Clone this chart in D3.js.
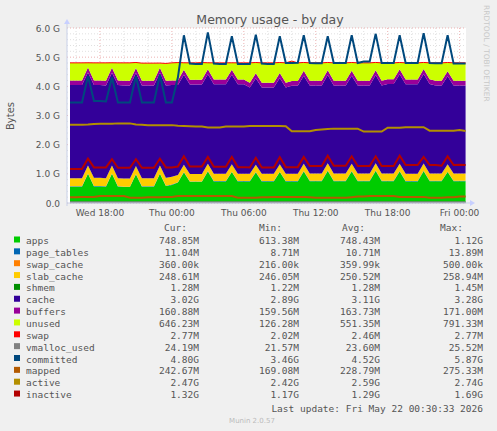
<!DOCTYPE html>
<html><head><meta charset="utf-8">
<script src="https://cdn.jsdelivr.net/npm/d3@7"></script>
<style>body{margin:0;background:#f0f0f0;}svg{display:block;}</style>
</head><body><svg id="c" width="497" height="431"></svg>
<script>
// samples every 30 min from Wed 15:30 to Fri 00:30 (67 points), values in GB
const startTime = new Date(2026,4,20,15,30);
const apps = [.56,.56,.56,1.00,.57,.57,.56,1.00,.56,.55,.55,.98,.56,.56,.56,1.00,.58,.62,
 .70,1.05,.73,.73,.73,1.08,.74,.74,.74,1.06,.74,.74,.74,1.05,.74,.74,.74,1.06,.74,.74,.74,1.08,.75,.75,.75,1.10,.75,.75,.75,1.08,.75,.75,.75,1.10,.75,.75,.75,1.08,.74,.74,.74,1.09,.75,.75,.75,1.06,.75,.75,.75];
const page_tables = [.011,.011,.011,.013,.011,.011,.011,.013,.011,.011,.011,.013,.011,.011,.011,.013,.011,.011,
 .011,.014,.011,.011,.011,.014,.011,.011,.011,.013,.011,.011,.011,.013,.011,.011,.011,.013,.011,.011,.011,.014,.011,.011,.011,.014,.011,.011,.011,.013,.011,.011,.011,.014,.011,.011,.011,.013,.011,.011,.011,.014,.011,.011,.011,.013,.011,.011,.011];
const swap_cache = [.0004,.0004,.0004,.0004,.0004,.0004,.0004,.0004,.0004,.0004,.0004,.0004,.0004,.0004,.0004,.0004,.0004,.0004,
 .0004,.0004,.0004,.0004,.0004,.0004,.0004,.0004,.0004,.0004,.0004,.0004,.0004,.0004,.0004,.0004,.0004,.0004,.0004,.0004,.0004,.0004,.0004,.0004,.0004,.0004,.0004,.0004,.0004,.0004,.0004,.0004,.0004,.0004,.0004,.0004,.0004,.0004,.0004,.0004,.0004,.0004,.0004,.0004,.0004,.0004,.0004,.0004,.0004];
const slab_cache = [.28,.28,.28,.27,.28,.28,.28,.27,.28,.28,.28,.27,.28,.28,.28,.27,.27,.27,
 .25,.25,.25,.25,.25,.25,.25,.25,.25,.25,.25,.25,.25,.25,.25,.25,.25,.25,.25,.25,.25,.25,.25,.25,.25,.25,.25,.25,.25,.25,.25,.25,.25,.25,.25,.25,.25,.25,.25,.25,.25,.25,.25,.25,.25,.25,.25,.25,.25];
const shmem = [.0013,.0013,.0013,.0013,.0013,.0013,.0013,.0013,.0013,.0013,.0013,.0013,.0013,.0013,.0013,.0013,.0013,.0013,
 .0013,.0013,.0013,.0013,.0013,.0013,.0013,.0013,.0013,.0013,.0013,.0013,.0013,.0013,.0013,.0013,.0013,.0013,.0013,.0013,.0013,.0013,.0013,.0013,.0013,.0013,.0013,.0013,.0013,.0013,.0013,.0013,.0013,.0013,.0013,.0013,.0013,.0013,.0013,.0013,.0013,.0013,.0013,.0013,.0013,.0013,.0013,.0013,.0013];
const cache = [3.19,3.19,3.19,3.19,3.18,3.18,3.18,3.18,3.19,3.19,3.19,3.19,3.18,3.18,3.18,3.18,3.17,3.14,
 3.08,3.08,3.07,3.07,3.07,3.07,3.07,3.07,3.07,3.07,3.07,3.07,2.96,2.96,2.96,2.96,2.96,2.96,2.96,3.02,3.02,3.02,3.02,3.02,3.02,3.02,3.02,3.02,3.02,3.02,3.02,3.02,3.02,3.02,3.02,3.07,3.07,3.07,3.07,3.07,3.07,3.07,3.07,3.02,3.02,3.02,3.02,3.02,3.02];
const buffers = [.16,.16,.16,.17,.16,.16,.16,.17,.16,.16,.16,.17,.16,.16,.16,.17,.16,.16,
 .16,.17,.16,.16,.16,.17,.16,.16,.16,.17,.16,.16,.16,.17,.16,.16,.16,.17,.16,.16,.16,.17,.16,.16,.16,.17,.16,.16,.16,.17,.16,.16,.16,.17,.16,.16,.16,.17,.16,.16,.16,.17,.16,.16,.16,.17,.16,.16,.16];
const unused = [.60,.60,.60,.16,.60,.60,.61,.17,.60,.61,.61,.19,.60,.60,.60,.16,.59,.60,
 .61,.24,.58,.58,.59,.22,.57,.57,.57,.24,.57,.57,.68,.37,.68,.68,.68,.36,.68,.68,.62,.28,.61,.61,.61,.26,.61,.61,.61,.28,.61,.61,.61,.26,.61,.56,.56,.23,.57,.57,.57,.22,.56,.61,.61,.30,.61,.61,.61];
const swap = [.0028,.0028,.0028,.0028,.0028,.0028,.0028,.0028,.0028,.0028,.0028,.0028,.0028,.0028,.0028,.0028,.0028,.0028,
 .0028,.0028,.0028,.0028,.0028,.0028,.0028,.0028,.0028,.0028,.0028,.0028,.0028,.0028,.0028,.0028,.0028,.0028,.0028,.0028,.0028,.0028,.0028,.0028,.0028,.0028,.0028,.0028,.0028,.0028,.0028,.0028,.0028,.0028,.0028,.0028,.0028,.0028,.0028,.0028,.0028,.0028,.0028,.0028,.0028,.0028,.0028,.0028,.0028];
const vmalloc_used = [.024,.024,.024,.024,.024,.024,.024,.024,.024,.024,.024,.024,.024,.024,.024,.024,.024,.024,
 .024,.024,.024,.024,.024,.024,.024,.024,.024,.024,.024,.024,.024,.024,.024,.024,.024,.024,.024,.024,.024,.024,.024,.024,.024,.024,.024,.024,.024,.024,.024,.024,.024,.024,.024,.024,.024,.024,.024,.024,.024,.024,.024,.024,.024,.024,.024,.024,.024];
const committed = [3.45,3.45,3.45,4.35,3.50,3.50,3.48,4.30,3.45,3.45,3.45,4.35,3.45,3.45,3.45,4.40,3.45,3.45,
 4.30,5.75,4.78,4.77,4.77,5.85,4.78,4.77,4.77,5.72,4.77,4.77,4.77,5.77,4.78,4.77,4.77,5.72,4.80,4.80,4.81,5.75,4.80,4.79,4.79,5.72,4.80,4.80,4.80,5.75,4.80,4.85,4.85,5.80,4.80,4.80,4.80,5.75,4.80,4.80,4.80,5.82,4.80,4.79,4.79,5.75,4.78,4.78,4.78];
const mapped = [.20,.20,.21,.21,.21,.24,.24,.24,.24,.24,.18,.18,.18,.20,.20,.20,.21,.21,
 .24,.24,.24,.24,.24,.24,.24,.24,.24,.24,.18,.18,.18,.18,.20,.20,.21,.21,.21,.21,.21,.21,.20,.18,.18,.18,.18,.18,.18,.20,.22,.22,.24,.24,.24,.24,.24,.21,.21,.21,.21,.21,.18,.18,.18,.20,.20,.22,.22];
const active = [2.68,2.68,2.68,2.69,2.71,2.72,2.72,2.72,2.73,2.73,2.73,2.69,2.68,2.67,2.67,2.67,2.67,2.67,
 2.65,2.64,2.63,2.62,2.62,2.59,2.59,2.59,2.62,2.62,2.62,2.62,2.64,2.64,2.64,2.64,2.64,2.64,2.63,2.46,2.46,2.46,2.46,2.50,2.52,2.54,2.55,2.55,2.55,2.55,2.55,2.45,2.45,2.45,2.45,2.58,2.58,2.58,2.60,2.60,2.60,2.60,2.48,2.48,2.48,2.48,2.48,2.50,2.47];
const inactive = [1.17,1.17,1.17,1.52,1.22,1.22,1.22,1.50,1.21,1.21,1.21,1.50,1.21,1.21,1.21,1.52,1.22,1.22,
 1.25,1.60,1.25,1.25,1.25,1.58,1.24,1.24,1.24,1.58,1.23,1.23,1.22,1.55,1.22,1.22,1.22,1.57,1.23,1.23,1.23,1.58,1.27,1.27,1.27,1.62,1.28,1.28,1.28,1.60,1.27,1.27,1.27,1.60,1.27,1.27,1.27,1.62,1.30,1.30,1.30,1.58,1.30,1.30,1.28,1.60,1.30,1.31,1.30];
const yTickLabels = ["0.0","1.0 G","2.0 G","3.0 G","4.0 G","5.0 G","6.0 G"];
const legendNames = ["apps","page_tables","swap_cache","slab_cache","shmem","cache","buffers","unused","swap","vmalloc_used","committed","mapped","active","inactive"];
const legendCur = ["748.85M","11.04M","360.00k","248.61M","1.28M","3.02G","160.88M","646.23M","2.77M","24.19M","4.80G","242.67M","2.47G","1.32G"];
const legendMin = ["613.38M","8.71M","216.00k","246.05M","1.22M","2.89G","159.56M","126.28M","2.02M","21.57M","3.46G","169.08M","2.42G","1.17G"];
const legendAvg = ["748.43M","10.71M","359.99k","250.52M","1.28M","3.11G","163.73M","551.35M","2.46M","23.60M","4.52G","228.79M","2.59G","1.29G"];
const legendMax = ["1.12G","13.89M","500.00k","258.94M","1.45M","3.28G","171.00M","791.33M","2.77M","25.52M","5.87G","275.33M","2.74G","1.69G"];
const colors = ["#00CC00","#0066B3","#FF8000","#FFCC00","#008F00","#330099","#990099","#CCFF00","#FF0000","#808080","#00487D","#B35A00","#B38F00","#B30000"];

const svg = d3.select("#c");
const L=67,R=466,T=28,B=203;
const times = apps.map((_,i)=>new Date(+startTime+i*1800000));
const x = d3.scaleTime().domain([new Date(2026,4,20,15,15),new Date(2026,4,22,0,32)]).range([L,R]);
const y = d3.scaleLinear().domain([0,6]).range([B,T]);
svg.append("rect").attr("x",L).attr("y",T).attr("width",R-L).attr("height",B-T).attr("fill","#fff");

// grid
const g = svg.append("g");
for(let v=0; v<=6.001; v+=0.2){
  const major = Math.abs(v-Math.round(v))<1e-6;
  g.append("line").attr("x1",L).attr("x2",R).attr("y1",y(v)).attr("y2",y(v))
   .attr("stroke",major?"#e8a0a0":"#d8d8d8").attr("stroke-dasharray","1,2").attr("stroke-width",0.8);
}
const hrs = d3.timeHour.every(2).range(x.domain()[0],x.domain()[1]);
hrs.forEach(h=>{ const major=h.getHours()%6===0;
  g.append("line").attr("x1",x(h)).attr("x2",x(h)).attr("y1",T).attr("y2",B)
   .attr("stroke",major?"#e8a0a0":"#d8d8d8").attr("stroke-dasharray","1,2").attr("stroke-width",0.8);});

// stacked areas
const stackSeries=[apps,page_tables,swap_cache,slab_cache,shmem,cache,buffers,unused];
let base = apps.map(()=>0);
const curve = d3.curveStepAfter;
stackSeries.forEach((s,k)=>{
  const lo=base.slice(), hi=base.map((b,i)=>b+s[i]);
  svg.append("path").datum(times.map((t,i)=>[t,lo[i],hi[i]]))
   .attr("d",d3.area().x(d=>x(d[0])).y0(d=>y(d[1])).y1(d=>y(d[2])).curve(d3.curveLinear))
   .attr("fill",colors[k]);
  base=hi;
});
const swapTop = base.map((b,i)=>b+swap[i]);
const line = d3.line().x(d=>x(d[0])).y(d=>y(d[1]));
svg.append("path").datum(times.map((t,i)=>[t,swapTop[i]])).attr("d",line).attr("fill","none").attr("stroke",colors[8]).attr("stroke-width",1);
[[vmalloc_used,9],[committed,10],[mapped,11],[active,12],[inactive,13]].forEach(([s,k])=>{
  svg.append("path").datum(times.map((t,i)=>[t,s[i]])).attr("d",line).attr("fill","none").attr("stroke",colors[k]).attr("stroke-width",2);
});

// axes
svg.append("line").attr("x1",L).attr("x2",R+6).attr("y1",B).attr("y2",B).attr("stroke","#c8d0e8");
svg.append("line").attr("x1",L).attr("x2",L).attr("y1",B+3).attr("y2",T-6).attr("stroke","#c8d0e8");
svg.append("path").attr("d",`M${R+4},${B-3}L${R+9},${B}L${R+4},${B+3}Z`).attr("fill","#c8d0ff");
svg.append("path").attr("d",`M${L-3},${T-4}L${L},${T-9}L${L+3},${T-4}Z`).attr("fill","#c8d0ff");
const font="DejaVu Sans";
yTickLabels.forEach((t,i)=>svg.append("text").attr("x",L-7).attr("y",y(i)+3.5).attr("text-anchor","end")
  .attr("font-family",font).attr("font-size",9).attr("fill","#555").text(t));
const xt=[[new Date(2026,4,20,18),"Wed 18:00"],[new Date(2026,4,21,0),"Thu 00:00"],[new Date(2026,4,21,6),"Thu 06:00"],[new Date(2026,4,21,12),"Thu 12:00"],[new Date(2026,4,21,18),"Thu 18:00"],[new Date(2026,4,22,0),"Fri 00:00"]];
xt.forEach(([d,t])=>svg.append("text").attr("x",x(d)).attr("y",B+13).attr("text-anchor","middle")
  .attr("font-family",font).attr("font-size",9).attr("fill","#555").text(t));
svg.append("text").attr("x",270).attr("y",24).attr("text-anchor","middle").attr("font-family",font).attr("font-size",12.5).attr("fill","#555").text("Memory usage - by day");
svg.append("text").attr("transform","translate(14,116) rotate(-90)").attr("text-anchor","middle").attr("font-family",font).attr("font-size",10).attr("fill","#555").text("Bytes");
svg.append("text").attr("transform","translate(484,5) rotate(90)").attr("font-family",font).attr("font-size",7.5).attr("fill","#c8c8c8").text("RRDTOOL / TOBI OETIKER");

// legend
const mono="DejaVu Sans Mono", fs=9.5;
[["Cur:",187],["Min:",282],["Avg:",365],["Max:",463]].forEach(([t,xx])=>svg.append("text").attr("x",xx).attr("y",231).attr("text-anchor","end").attr("font-family",mono).attr("font-size",fs).attr("fill","#555").text(t));
legendNames.forEach((n,i)=>{
  const yy=244+i*11.85;
  svg.append("rect").attr("x",14).attr("y",yy-7.5).attr("width",6).attr("height",6).attr("fill",colors[i]);
  svg.append("text").attr("x",26).attr("y",yy).attr("font-family",mono).attr("font-size",fs).attr("fill","#555").text(n);
  [[legendCur,199],[legendMin,299],[legendAvg,380],[legendMax,483]].forEach(([a,xx])=>
    svg.append("text").attr("x",xx).attr("y",yy).attr("text-anchor","end").attr("font-family",mono).attr("font-size",fs).attr("fill","#555").text(a[i]));
});
svg.append("text").attr("x",483).attr("y",412).attr("text-anchor","end").attr("font-family",mono).attr("font-size",fs).attr("fill","#555").text("Last update: Fri May 22 00:30:33 2026");
svg.append("text").attr("x",252).attr("y",423).attr("text-anchor","middle").attr("font-family",font).attr("font-size",7).attr("fill","#bbb").text("Munin 2.0.57");
</script></body></html>
